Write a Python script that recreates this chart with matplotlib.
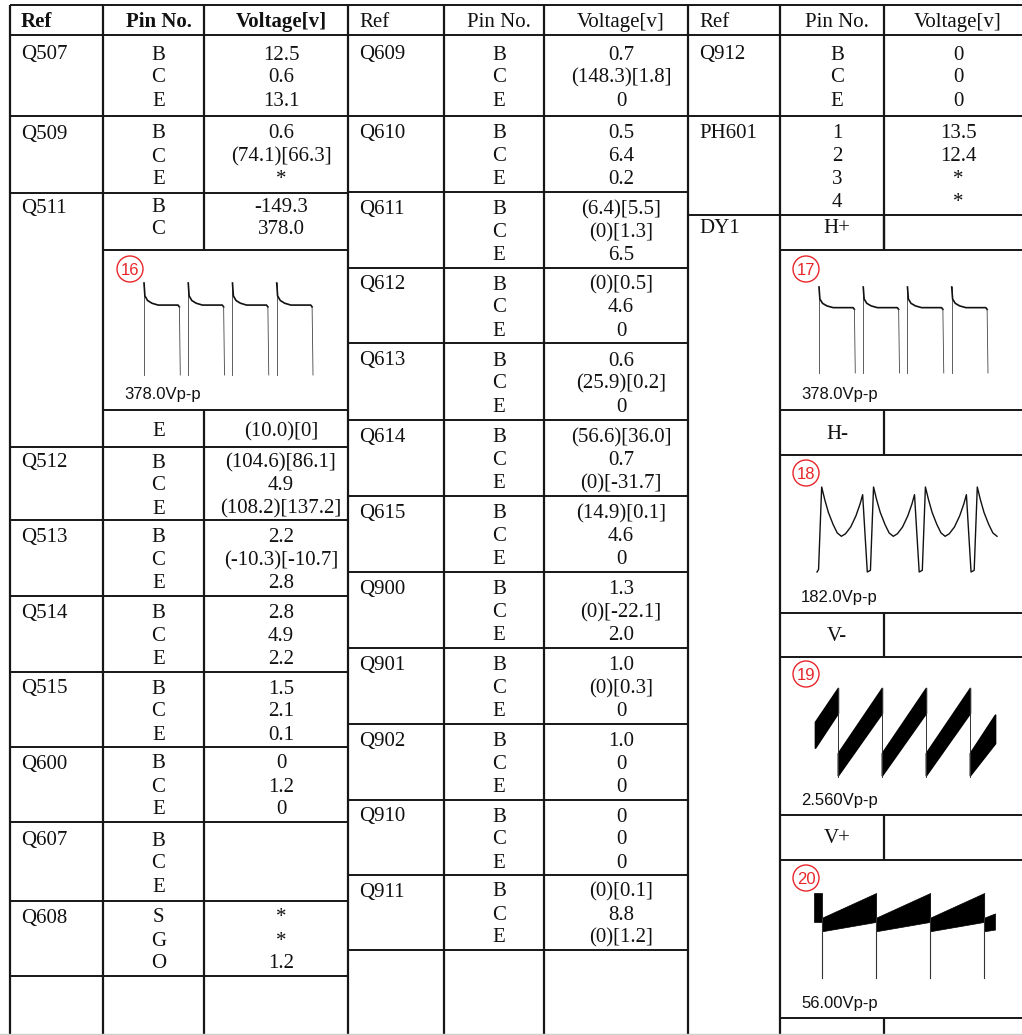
import matplotlib.pyplot as plt
import numpy as np
from matplotlib.patches import Circle

W, H = 1022, 1035
SERIF = ['Liberation Serif', 'DejaVu Serif']
SANS = ['Liberation Sans', 'DejaVu Sans']
LC = '#161616'

# ---- table data ----
headers = ['Ref', 'Pin No.', 'Voltage[v]']

col1_refs = ['Q507', 'Q509', 'Q511', 'Q512', 'Q513', 'Q514', 'Q515', 'Q600', 'Q607', 'Q608']
col1_pins = [['B', 'C', 'E'], ['B', 'C', 'E'], ['B', 'C'], ['B', 'C', 'E'], ['B', 'C', 'E'],
             ['B', 'C', 'E'], ['B', 'C', 'E'], ['B', 'C', 'E'], ['B', 'C', 'E'], ['S', 'G', 'O']]
col1_volts = [['12.5', '0.6', '13.1'],
              ['0.6', '(74.1)[66.3]', '*'],
              ['-149.3', '378.0'],
              ['(104.6)[86.1]', '4.9', '(108.2)[137.2]'],
              ['2.2', '(-10.3)[-10.7]', '2.8'],
              ['2.8', '4.9', '2.2'],
              ['1.5', '2.1', '0.1'],
              ['0', '1.2', '0'],
              ['', '', ''],
              ['*', '*', '1.2']]
q511_e_pin, q511_e_volt = 'E', '(10.0)[0]'

col2_refs = ['Q609', 'Q610', 'Q611', 'Q612', 'Q613', 'Q614', 'Q615', 'Q900', 'Q901', 'Q902', 'Q910', 'Q911']
col2_volts = [['0.7', '(148.3)[1.8]', '0'],
              ['0.5', '6.4', '0.2'],
              ['(6.4)[5.5]', '(0)[1.3]', '6.5'],
              ['(0)[0.5]', '4.6', '0'],
              ['0.6', '(25.9)[0.2]', '0'],
              ['(56.6)[36.0]', '0.7', '(0)[-31.7]'],
              ['(14.9)[0.1]', '4.6', '0'],
              ['1.3', '(0)[-22.1]', '2.0'],
              ['1.0', '(0)[0.3]', '0'],
              ['1.0', '0', '0'],
              ['0', '0', '0'],
              ['(0)[0.1]', '8.8', '(0)[1.2]']]

col3_refs = ['Q912', 'PH601']
col3_pins = [['B', 'C', 'E'], ['1', '2', '3', '4']]
col3_volts = [['0', '0', '0'], ['13.5', '12.4', '*', '*']]
dy1_ref = 'DY1'
dy1_pins = ['H+', 'H-', 'V-', 'V+']

# ---- scope traces (t in periods, v normalised to peak-peak) ----
scope_ids = ['16', '17', '18', '19', '20']
scope_vpp = ['378.0Vp-p', '378.0Vp-p', '182.0Vp-p', '2.560Vp-p', '56.00Vp-p']

hpulse_t = [0.0, 0.0, 0.02, 0.08, 0.18, 0.32, 0.77, 0.80, 0.82]
hpulse_v = [0.0, 1.0, 0.86, 0.81, 0.78, 0.76, 0.76, 0.74, 0.0]
hpulse_count = 4

parab_start_t = [-0.09, -0.06]
parab_start_v = [0.0, 0.03]
parab_t = [0.0, 0.06, 0.13, 0.22, 0.30, 0.38, 0.46, 0.56, 0.66, 0.74, 0.79, 0.84, 0.88, 0.94]
parab_v = [1.0, 0.85, 0.70, 0.56, 0.46, 0.42, 0.45, 0.53, 0.66, 0.80, 0.91, 0.40, 0.0, 0.02]

# vertical saw (19): band segments [t0, t1], upper & lower edges
vsaw_t0 = [-0.52, 0.0, 1.0, 2.0, 3.0]
vsaw_t1 = [0.0, 1.0, 2.0, 3.0, 3.57]
vsaw_hi0 = [0.62, 0.27, 0.27, 0.27, 0.27]
vsaw_hi1 = [1.0, 1.0, 1.0, 1.0, 0.70]
vsaw_lo0 = [0.33, 0.02, 0.02, 0.02, 0.02]
vsaw_lo1 = [0.72, 0.72, 0.72, 0.72, 0.38]
vsaw_retrace = [0.0, 1.0, 2.0, 3.0]

# V+ (20)
vplus_t0 = [-0.15, 0.0, 1.0, 2.0, 3.0]
vplus_t1 = [0.0, 1.0, 2.0, 3.0, 3.2]
vplus_hi0 = [1.0, 0.71, 0.71, 0.71, 0.71]
vplus_hi1 = [1.0, 1.0, 1.0, 1.0, 0.76]
vplus_lo0 = [0.66, 0.55, 0.55, 0.55, 0.55]
vplus_lo1 = [0.66, 0.66, 0.66, 0.66, 0.57]
vplus_spike = [0.0, 1.0, 2.0, 3.0]

fig = plt.figure(figsize=(W / 100, H / 100), dpi=100)
ax = fig.add_axes([0, 0, 1, 1])
ax.set_xlim(0, W)
ax.set_ylim(H, 0)
ax.axis('off')


def vline(x, y0, y1):
    ax.plot([x, x], [y0, y1], color=LC, lw=1.6, solid_capstyle='butt')


def hline(y, x0, x1):
    ax.plot([x0, x1], [y, y], color=LC, lw=1.4, solid_capstyle='butt')


def cell_text(x, yc, s, ha='center', weight='normal'):
    ax.text(x, yc + 7, s, ha=ha, va='baseline', fontsize=15, family=SERIF,
            fontweight=weight, color='#111')


def row_centers(top, bot, n, step=23):
    start = top + (bot - top - step * (n - 1)) / 2
    return [start + i * step for i in range(n)]


def scope_axes(x0, y0, x1, y1):
    a = fig.add_axes([x0 / W, 1 - y1 / H, (x1 - x0) / W, (y1 - y0) / H])
    a.axis('off')
    return a


def scope_label(cx, cy, num, lx, ly, txt):
    ax.add_patch(Circle((cx, cy), 13, fill=False, ec='#e8262a', lw=1.0))
    ax.text(cx, cy + 6, num, ha='center', va='baseline', fontsize=12,
            family=SANS, color='#e8262a')
    ax.text(lx, ly + 6, txt, ha='left', va='baseline', fontsize=12,
            family=SANS, color='#111')


# ---- outer frame and headers ----
hline(5, 10, W)
hline(35, 10, W)
blocks = [(10, 103, 204, 348), (348, 444, 544, 688), (688, 780, 884, W)]
for i, (x0, xa, xb, x1) in enumerate(blocks):
    wt = 'bold' if i == 0 else 'normal'
    cell_text(x0 + 11, 20, headers[0], ha='left', weight=wt)
    cell_text((xa + xb) / 2 + 5, 20, headers[1], weight=wt)
    cell_text((xb + x1) / 2 + 5, 20, headers[2], weight=wt)

# ---- block 1 ----
x0, xa, xb, x1 = blocks[0]
vline(x0, 5, H)
vline(xa, 5, H)
vline(xb, 5, 250)
vline(xb, 410, H)
vline(x1, 5, H)
b1_bounds = [35, 116, 193, 447, 520, 596, 672, 747, 822, 901, 976]
for y in b1_bounds[1:]:
    hline(y, x0, x1)
hline(250, xa, x1)
hline(410, xa, x1)
for i, ref in enumerate(col1_refs):
    top, bot = b1_bounds[i], b1_bounds[i + 1]
    if ref == 'Q511':
        ys = row_centers(top, 240, len(col1_pins[i]), 22)
    else:
        ys = row_centers(top, bot, len(col1_pins[i]))
    cell_text(x0 + 11, ys[0], ref, ha='left')
    for y, p, v in zip(ys, col1_pins[i], col1_volts[i]):
        cell_text((xa + xb) / 2 + 5, y, p)
        cell_text((xb + x1) / 2 + 5, y, v)
cell_text((xa + xb) / 2 + 5, 429, q511_e_pin)
cell_text((xb + x1) / 2 + 5, 429, q511_e_volt)

# ---- block 2 ----
x0, xa, xb, x1 = blocks[1]
vline(xa, 5, H)
vline(xb, 5, H)
vline(x1, 5, H)
b2_bounds = [35, 116, 192, 268, 343, 420, 496, 572, 648, 724, 800, 875, 950]
for y in b2_bounds[1:]:
    hline(y, x0, x1)
for i, ref in enumerate(col2_refs):
    ys = row_centers(b2_bounds[i], b2_bounds[i + 1], 3)
    cell_text(x0 + 11, ys[0], ref, ha='left')
    for y, p, v in zip(ys, ['B', 'C', 'E'], col2_volts[i]):
        cell_text((xa + xb) / 2 + 5, y, p)
        cell_text((xb + x1) / 2 + 5, y, v)

# ---- block 3 ----
x0, xa, xb, x1 = blocks[2]
vline(xa, 5, H)
b3_bounds = [35, 116, 215]
for y in b3_bounds[1:]:
    hline(y, x0, x1)
for i, ref in enumerate(col3_refs):
    ys = row_centers(b3_bounds[i], b3_bounds[i + 1], len(col3_pins[i]))
    cell_text(x0 + 11, ys[0], ref, ha='left')
    for y, p, v in zip(ys, col3_pins[i], col3_volts[i]):
        cell_text((xa + xb) / 2 + 5, y, p)
        cell_text((xb + x1) / 2 + 5, y, v)
vline(xb, 5, 250)
dy1_rows = [(215, 250), (410, 455), (613, 657), (815, 860)]
dy1_y = [226, 432, 634, 836]
for (top, bot), y, p in zip(dy1_rows, dy1_y, dy1_pins):
    vline(xb, top, bot)
    hline(bot, xa, x1)
    if top != 215:
        hline(top, xa, x1)
    cell_text((xa + xb) / 2 + 5, y, p)
cell_text(x0 + 11, 226, dy1_ref, ha='left')
hline(1018, xa, x1)
vline(xb, 1018, H)
ax.plot([0, W], [1034, 1034], color='#cfcfcf', lw=1)

# ---- scope traces ----
# 16 and 17: horizontal pulses
for (bx0, by0, bx1, by1) in [(144, 283, 313, 375), (819, 287, 988, 373)]:
    a = scope_axes(bx0, by0, bx1, by1)
    for k in range(hpulse_count):
        tt = np.array(hpulse_t) + k
        vv = np.array(hpulse_v)
        a.plot(tt[:2], vv[:2], color='#444', lw=0.6, clip_on=False)
        a.plot(tt[1:-1], vv[1:-1], color='#111', lw=1.2, clip_on=False)
        a.plot(tt[-2:], vv[-2:], color='#444', lw=0.6, clip_on=False)
    a.set_xlim(0, hpulse_count - 1 + hpulse_t[-1])
    a.set_ylim(0, 1)

# 18: parabola
a = scope_axes(817, 487, 997, 572)
t18 = [np.array(parab_start_t)]
v18 = [np.array(parab_start_v)]
for k in range(3):
    t18.append(np.array(parab_t) + k)
    v18.append(np.array(parab_v))
t18.append(np.array(parab_t[:6]) + 3)
v18.append(np.array(parab_v[:6]))
t18 = np.concatenate(t18)
v18 = np.concatenate(v18)
a.plot(t18, v18, color='#111', lw=1.0, clip_on=False)
a.set_xlim(t18.min(), t18.max())
a.set_ylim(0, 1)

# 19: vertical sawtooth band
a = scope_axes(815, 688, 995, 777)
for t0, t1, h0, h1, l0, l1 in zip(vsaw_t0, vsaw_t1, vsaw_hi0, vsaw_hi1, vsaw_lo0, vsaw_lo1):
    a.fill_between([t0, t1], [l0, l1], [h0, h1], color='#000', lw=1.2, clip_on=False)
for t in vsaw_retrace:
    a.plot([t, t], [0, 1], color='#333', lw=0.7, clip_on=False)
a.set_xlim(vsaw_t0[0], vsaw_t1[-1])
a.set_ylim(0, 1)

# 20: V+ band with spikes
a = scope_axes(814, 893, 995, 978)
for t0, t1, h0, h1, l0, l1 in zip(vplus_t0, vplus_t1, vplus_hi0, vplus_hi1, vplus_lo0, vplus_lo1):
    a.fill_between([t0, t1], [l0, l1], [h0, h1], color='#000', lw=0.5, clip_on=False)
for t in vplus_spike:
    a.plot([t, t], [0, 0.72], color='#333', lw=0.8, clip_on=False)
a.set_xlim(vplus_t0[0], vplus_t1[-1])
a.set_ylim(0, 1)

# circled numbers and amplitude labels
label_pos = [(130, 269, 124, 393), (806, 269, 801, 393), (806, 473, 801, 596),
             (806, 674, 801, 799), (806, 878, 801, 1002)]
for (cx, cy, lx, ly), num, txt in zip(label_pos, scope_ids, scope_vpp):
    scope_label(cx, cy, num, lx, ly, txt)

fig.savefig('out.png', dpi=100, facecolor='white')
